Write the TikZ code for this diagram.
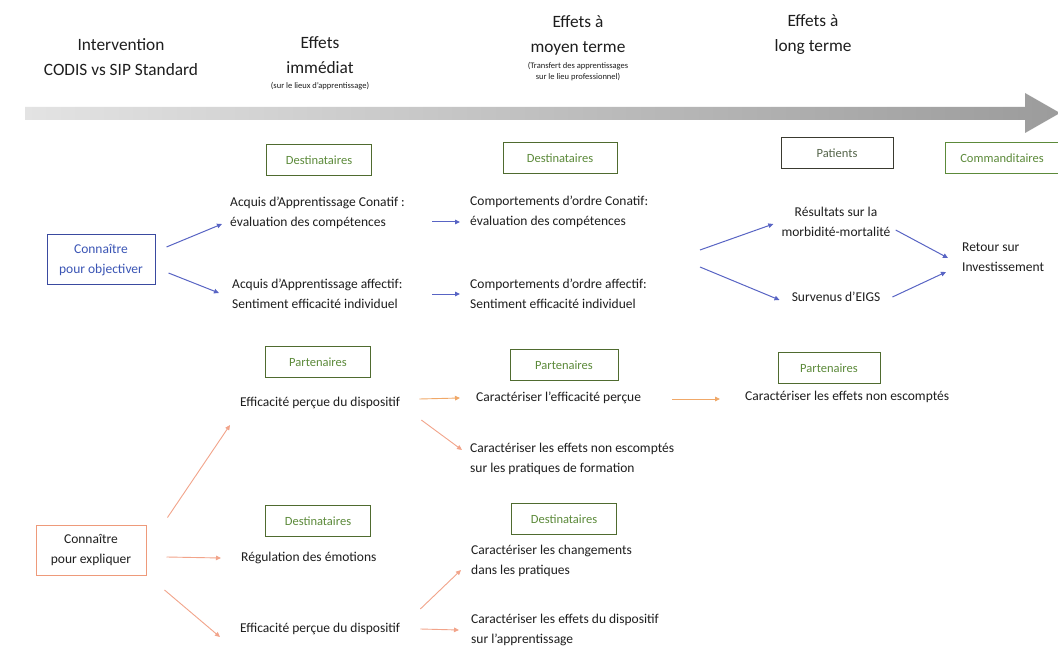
\documentclass[tikz,border=0pt]{standalone}
\usepackage{fontspec}
\setmainfont{Carlito}
\usetikzlibrary{arrows.meta,calc}
\definecolor{gbord}{HTML}{4F6B2F}
\definecolor{gtext}{HTML}{5C8A3A}
\definecolor{pbord}{HTML}{3A3A30}
\definecolor{ptext}{HTML}{55654A}
\definecolor{bblue}{HTML}{3B55B5}
\definecolor{bbord}{HTML}{3A4AA0}
\definecolor{barr}{HTML}{5864C4}
\definecolor{obord}{HTML}{EE9A7A}
\definecolor{oarr}{HTML}{F2A48A}
\definecolor{oarr2}{HTML}{F0A868}
\definecolor{txt}{HTML}{1E1E1E}
\begin{document}
\begin{tikzpicture}[x=1pt,y=-1pt,
 hdr/.style={align=center,font=\fontsize{17.3}{25}\selectfont,text=txt,inner sep=0},
 small/.style={align=center,font=\fontsize{8.5}{11}\selectfont,text=txt,inner sep=0},
 body/.style={align=left,anchor=west,font=\fontsize{13.5}{19.5}\selectfont,text=txt,inner sep=0},
 bodyc/.style={align=center,font=\fontsize{13.5}{19.5}\selectfont,text=txt,inner sep=0},
 gbox/.style={draw=gbord,line width=1pt,text=gtext,font=\fontsize{12.5}{15}\selectfont,minimum height=31,minimum width=105,inner sep=0},
 kbox/.style={line width=1pt,font=\fontsize{13.5}{19.5}\selectfont,align=center,minimum height=50,minimum width=108,inner sep=0},
 barrow/.style={draw=barr,line width=1pt,-{Triangle[length=5pt,width=4.5pt]}},
 oarrow/.style={draw=oarr,line width=0.9pt,-{Triangle[length=5pt,width=4.5pt]}},
 oarrowb/.style={draw=oarr2,line width=0.9pt,-{Triangle[length=5pt,width=4.5pt]}},
]
\useasboundingbox (0,0) rectangle (1058,671);
\fill[white] (0,0) rectangle (1058,671);

% timeline arrow
\shade[left color=gray!22,right color=gray!78] (25,107) -- (1025,107) -- (1025,93) -- (1060,113) -- (1025,133) -- (1025,120) -- (25,120) -- cycle;

% headers
\node[hdr] (h1) at (121,57) {Intervention\\CODIS vs SIP Standard};
\node[hdr] (h2) at (320,55) {Effets\\immédiat};
\node[small] (h2s) at (320,86) {(sur le lieux d’apprentissage)};
\node[hdr] (h3) at (578,35) {Effets à\\moyen terme};
\node[small] (h3s) at (578,72) {(Transfert des apprentissages\\sur le lieu professionnel)};
\node[hdr] (h4) at (813,35) {Effets à\\long terme};

% category boxes
\node[gbox] (d1) at (319,160) {Destinataires};
\node[gbox,minimum width=114] (d2) at (560,158) {Destinataires};
\node[gbox,draw=pbord,text=ptext,minimum width=112] (pa) at (837,153) {Patients};
\node[gbox,draw=gtext,minimum width=114] (co) at (1002,158) {Commanditaires};
\node[gbox] (p1) at (318,362) {Partenaires};
\node[gbox,minimum width=108] (p2) at (564,365) {Partenaires};
\node[gbox,minimum width=102] (p3) at (829,368) {Partenaires};
\node[gbox] (d3) at (318,521) {Destinataires};
\node[gbox] (d4) at (564,519) {Destinataires};

% key boxes
\node[kbox,draw=bbord,text=bblue] (obj) at (101,260) {Connaître\\pour objectiver};
\node[kbox,draw=obord,text=txt,minimum width=110] (exp) at (91,550) {Connaître\\pour expliquer};

% texts
\node[body] (A1) at (230,213) {Acquis d’Apprentissage Conatif :\\évaluation des compétences};
\node[body] (A2) at (232,294) {Acquis d’Apprentissage affectif:\\Sentiment efficacité individuel};
\node[body] (C1) at (470,212) {Comportements d’ordre Conatif:\\évaluation des compétences};
\node[body] (C2) at (470,294) {Comportements d’ordre affectif:\\Sentiment efficacité individuel};
\node[bodyc] (R1) at (836,222) {Résultats sur la\\morbidité-mortalité};
\node[bodyc] (R2) at (836,297) {Survenus d’EIGS};
\node[body] (RI) at (962,257) {Retour sur\\Investissement};
\node[body] (E1) at (240,403) {Efficacité perçue du dispositif};
\node[body] (E2) at (476,398) {Caractériser l’efficacité perçue};
\node[body] (E3) at (470,459) {Caractériser les effets non escomptés\\sur les pratiques de formation};
\node[body] (E4) at (745,397) {Caractériser les effets non escomptés};
\node[body] (F1) at (241,558) {Régulation des émotions};
\node[body] (F2) at (240,629) {Efficacité perçue du dispositif};
\node[body] (F3) at (471,561) {Caractériser les changements\\dans les pratiques};
\node[body] (F4) at (471,630) {Caractériser les effets du dispositif\\sur l’apprentissage};

\coordinate (mid1) at (700,250);
\coordinate (mid2) at (700,267);

% blue arrows
\draw[barrow] ([xshift=11pt,yshift=13pt]obj.east) -- ([xshift=-8pt,yshift=-11pt]A1.west);
\draw[barrow] ([xshift=13pt,yshift=-13pt]obj.east) -- ([xshift=-13pt,yshift=1pt]A2.west);
\draw[barrow] ([xshift=-38pt,yshift=-10pt]C1.west) -- ([xshift=-10pt,yshift=-10pt]C1.west);
\draw[barrow] ([xshift=-38pt,yshift=0pt]C2.west) -- ([xshift=-10pt,yshift=0pt]C2.west);
\draw[barrow] (mid1) -- ([xshift=-8pt,yshift=-2pt]R1.west);
\draw[barrow] (mid2) -- ([xshift=-12pt,yshift=-3pt]R2.west);
\draw[barrow] ([xshift=5pt,yshift=-8pt]R1.east) -- ([xshift=-14pt,yshift=-1pt]RI.west);
\draw[barrow] ([xshift=12pt,yshift=0pt]R2.east) -- ([xshift=-16pt,yshift=-15pt]RI.west);

% orange arrows
\draw[oarrow] ([xshift=21pt,yshift=7pt]exp.north east) -- ([xshift=-10pt,yshift=-22pt]E1.west);
\draw[oarrowb] ([xshift=19pt,yshift=4pt]E1.east) -- ([xshift=-16pt,yshift=0pt]E2.west);
\draw[oarrow] ([xshift=21pt,yshift=-17pt]E1.east) -- ([xshift=-8pt,yshift=9pt]E3.west);
\draw[oarrowb] ([xshift=31pt,yshift=-1pt]E2.east) -- ([xshift=-25pt,yshift=-2pt]E4.west);
\draw[oarrow] ([xshift=20pt,yshift=-7pt]exp.east) -- ([xshift=-20pt]F1.west);
\draw[oarrow] ([xshift=18pt,yshift=-40pt]exp.east) -- ([xshift=-20pt,yshift=-8pt]F2.west);
\draw[oarrow] ([xshift=20pt,yshift=20pt]F2.east) -- ([xshift=-10pt,yshift=-9pt]F3.west);
\draw[oarrow] ([xshift=20pt,yshift=0pt]F2.east) -- ([xshift=-12pt,yshift=0pt]F4.west);
\end{tikzpicture}
\end{document}
